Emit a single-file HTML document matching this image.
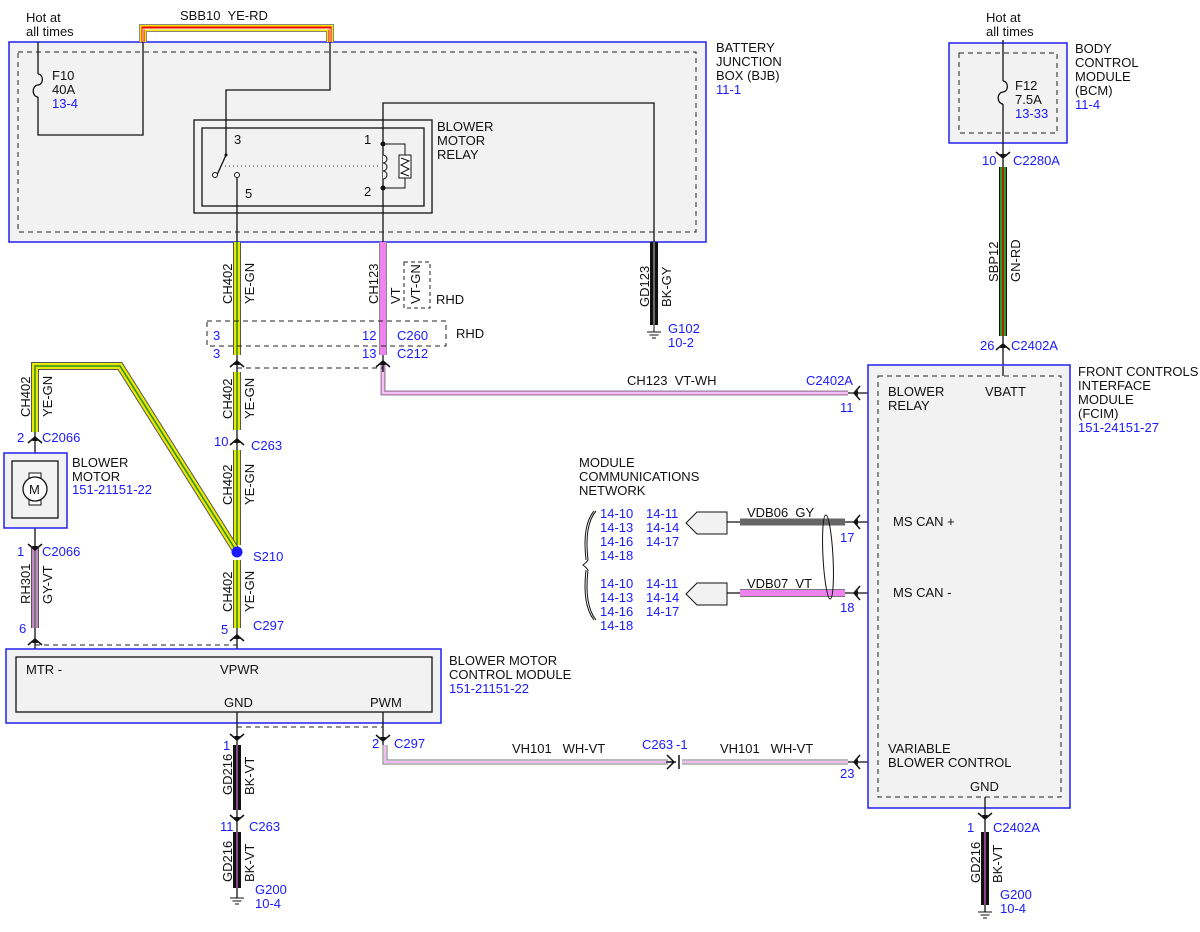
<!DOCTYPE html>
<html><head><meta charset="utf-8"><style>
html,body{margin:0;padding:0;background:#fff}
svg text{font-family:"Liberation Sans",sans-serif;font-size:13px;fill:#111;white-space:pre}
svg text.b{fill:#1a1aff}
</style></head><body>
<svg width="1200" height="927" viewBox="0 0 1200 927" xmlns="http://www.w3.org/2000/svg" xml:space="preserve">
<defs>
<g id="cd"><path d="M-7,-5 L0,1 L7,-5" fill="none" stroke="#111" stroke-width="1.5"/><path d="M-3,-3 L0,1 L3,-3Z" fill="#111"/></g>
<g id="cu"><path d="M-7,5 L0,-1 L7,5" fill="none" stroke="#111" stroke-width="1.5"/><path d="M-3,3 L0,-1 L3,3Z" fill="#111"/></g>
<g id="cl"><path d="M5,-7 L-1,0 L5,7" fill="none" stroke="#111" stroke-width="1.5"/><path d="M3,-3 L-1,0 L3,3Z" fill="#111"/></g>
<g id="gnd"><path d="M-7,0 H7 M-4.5,3 H4.5 M-2,6 H2" stroke="#111" stroke-width="1"/></g>
</defs>

<rect x="9" y="42" width="697" height="200" fill="#f2f2f2" stroke="#2222ee" stroke-width="1.5"/>
<rect x="18" y="52" width="678" height="180" fill="none" stroke="#222" stroke-dasharray="5,4"/>
<text x="716" y="52">BATTERY</text><text x="716" y="66">JUNCTION</text><text x="716" y="80">BOX (BJB)</text><text class="b" x="716" y="94">11-1</text>
<text x="26" y="22">Hot at</text><text x="26" y="36">all times</text>
<path d="M143,42 V28 H330 V42" fill="none" stroke="#888" stroke-width="8"/>
<path d="M143,42 V28 H330 V42" fill="none" stroke="#f5e600" stroke-width="6"/>
<path d="M143,42 V28 H330 V42" fill="none" stroke="#e00" stroke-width="3"/>
<path d="M143,42 V29 H330 V42" fill="none" stroke="#fff" stroke-width="1"/>
<text x="180" y="20">SBB10  YE-RD</text>
<path d="M38,42 V74 M38,97 V135 H143 V42 M330,42 V90 H226 V155 L217,175" fill="none" stroke="#111" stroke-width="1.3"/>
<path d="M38,74 a4,5 0 0 1 0,11 a4,5 0 0 0 0,12" fill="none" stroke="#111" stroke-width="1.3"/>
<text x="52" y="80">F10</text><text x="52" y="94">40A</text><text class="b" x="52" y="108">13-4</text>
<rect x="194" y="120" width="238" height="93" fill="none" stroke="#111" stroke-width="1.3"/>
<rect x="202" y="128" width="222" height="78" fill="none" stroke="#111" stroke-width="1.3"/>
<text x="437" y="131">BLOWER</text><text x="437" y="145">MOTOR</text><text x="437" y="159">RELAY</text>
<text x="234" y="144">3</text><text x="245" y="198">5</text><text x="364" y="144">1</text><text x="364" y="196">2</text>
<circle cx="215" cy="175" r="2.5" fill="#fff" stroke="#111"/><circle cx="226" cy="155" r="1.5" fill="#111"/>
<circle cx="237" cy="175" r="2.5" fill="#fff" stroke="#111"/>
<path d="M225,166 H378" stroke="#333" stroke-dasharray="1,3"/>
<path d="M237,178 V242" stroke="#111" stroke-width="1.3"/>
<path d="M383,242 V103 H654 V242" fill="none" stroke="#111" stroke-width="1.3"/>
<circle cx="383" cy="144" r="2.5" fill="#111"/><circle cx="383" cy="188" r="2.5" fill="#111"/>
<path d="M383,144 H405 V155 M405,178 V188 H383" fill="none" stroke="#111"/>
<rect x="399" y="155" width="12" height="23" fill="#fff" stroke="#111"/>
<path d="M401,158 L409,161 L401,165 L409,169 L401,173 L409,176" fill="none" stroke="#111"/>
<path d="M383,155 a4,4 0 0 1 0,8 a4,4 0 0 1 0,8 a4,4 0 0 1 0,8" fill="#f2f2f2" stroke="#111"/>

<g fill="none" stroke-linecap="butt">
<path d="M237,242 V355 M237,372 V430 M237,450 V545 M237,560 V628" stroke="#555" stroke-width="8"/>
<path d="M237,242 V355 M237,372 V430 M237,450 V545 M237,560 V628" stroke="#e8e800" stroke-width="6"/>
<path d="M237,242 V355 M237,372 V430 M237,450 V545 M237,560 V628" stroke="#2a8a2a" stroke-width="1.5"/>
<path d="M237,552 L120,366 H35 V432" stroke="#555" stroke-width="8" stroke-linejoin="miter"/>
<path d="M237,552 L120,366 H35 V432" stroke="#e8e800" stroke-width="6"/>
<path d="M237,552 L120,366 H35 V432" stroke="#2a8a2a" stroke-width="1.5"/>
<path d="M383,242 V355" stroke="#888" stroke-width="8"/>
<path d="M383,242 V355" stroke="#ee82ee" stroke-width="6"/>
<path d="M383,365 V393 H848" stroke="#888" stroke-width="5"/>
<path d="M383,365 V393 H848" stroke="#ee82ee" stroke-width="3"/>
<path d="M383,365 V393 H848" stroke="#fff" stroke-width="1"/>
<path d="M654,242 V325" stroke="#111" stroke-width="8"/>
<path d="M654,242 V325" stroke="#888" stroke-width="1.5"/>
<path d="M35,548 V628" stroke="#555" stroke-width="8"/>
<path d="M35,548 V628" stroke="#c78ac7" stroke-width="6"/>
<path d="M35,548 V628" stroke="#777" stroke-width="2"/>
<path d="M237,745 V810 M237,832 V888" stroke="#111" stroke-width="8"/>
<path d="M237,745 V810 M237,832 V888" stroke="#b05ab0" stroke-width="1.5"/>
<path d="M985,832 V905" stroke="#111" stroke-width="8"/>
<path d="M985,832 V905" stroke="#b05ab0" stroke-width="1.5"/>
<path d="M1003,167 V336" stroke="#111" stroke-width="8"/>
<path d="M1003,167 V336" stroke="#2a9a2a" stroke-width="6"/>
<path d="M1003,167 V336" stroke="#d00" stroke-width="1.5"/>
<path d="M385,745 V762 H668 M682,762 H848" stroke="#777" stroke-width="5"/>
<path d="M385,745 V762 H668 M682,762 H848" stroke="#f8f8f8" stroke-width="3"/>
<path d="M385,745 V762 H668 M682,762 H848" stroke="#ee82ee" stroke-width="1"/>
<path d="M740,522 H845" stroke="#666" stroke-width="7"/>
<path d="M740,593 H845" stroke="#777" stroke-width="8"/>
<path d="M740,593 H845" stroke="#ee82ee" stroke-width="6"/>
</g>
<path d="M727,522 H740 M727,593 H740 M845,522 H868 M845,593 H868 M848,393 H868 M848,762 H868" stroke="#111" stroke-width="1.3"/>
<ellipse cx="828" cy="557" rx="5" ry="42" fill="none" stroke="#111" transform="rotate(-3 828 557)"/>
<path d="M697,512 H727 V534 H697 L686,523Z" fill="#f2f2f2" stroke="#111"/>
<path d="M697,583 H727 V605 H697 L686,594Z" fill="#f2f2f2" stroke="#111"/>
<path d="M596,511 Q584,525 588,560 Q586,563 583,565 Q586,567 588,570 Q584,605 596,620" fill="none" stroke="#111"/>
<path d="M594,511 Q582,525 586,560 M586,570 Q582,605 594,620" fill="none" stroke="#111"/>
<text x="579" y="467">MODULE</text><text x="579" y="481">COMMUNICATIONS</text><text x="579" y="495">NETWORK</text>
<text class="b" x="600" y="518">14-10</text><text class="b" x="646" y="518">14-11</text><text class="b" x="600" y="532">14-13</text><text class="b" x="646" y="532">14-14</text><text class="b" x="600" y="546">14-16</text><text class="b" x="646" y="546">14-17</text><text class="b" x="600" y="560">14-18</text>
<text class="b" x="600" y="588">14-10</text><text class="b" x="646" y="588">14-11</text><text class="b" x="600" y="602">14-13</text><text class="b" x="646" y="602">14-14</text><text class="b" x="600" y="616">14-16</text><text class="b" x="646" y="616">14-17</text><text class="b" x="600" y="630">14-18</text>
<text x="747" y="517">VDB06  GY</text><text x="747" y="588">VDB07  VT</text>
<text class="b" x="840" y="542">17</text><text class="b" x="840" y="612">18</text>

<text transform="translate(232,304) rotate(-90)">CH402</text><text transform="translate(254,304) rotate(-90)">YE-GN</text>
<text transform="translate(378,304) rotate(-90)">CH123</text><text transform="translate(400,304) rotate(-90)">VT</text>
<text transform="translate(420,304) rotate(-90)">VT-GN</text>
<text transform="translate(649,307) rotate(-90)">GD123</text><text transform="translate(671,307) rotate(-90)">BK-GY</text>
<text transform="translate(30,417) rotate(-90)">CH402</text><text transform="translate(52,417) rotate(-90)">YE-GN</text>
<text transform="translate(232,419) rotate(-90)">CH402</text><text transform="translate(254,419) rotate(-90)">YE-GN</text>
<text transform="translate(232,505) rotate(-90)">CH402</text><text transform="translate(254,505) rotate(-90)">YE-GN</text>
<text transform="translate(232,612) rotate(-90)">CH402</text><text transform="translate(254,612) rotate(-90)">YE-GN</text>
<text transform="translate(30,604) rotate(-90)">RH301</text><text transform="translate(52,604) rotate(-90)">GY-VT</text>
<text transform="translate(232,795) rotate(-90)">GD216</text><text transform="translate(254,795) rotate(-90)">BK-VT</text>
<text transform="translate(232,882) rotate(-90)">GD216</text><text transform="translate(254,882) rotate(-90)">BK-VT</text>
<text transform="translate(980,883) rotate(-90)">GD216</text><text transform="translate(1002,883) rotate(-90)">BK-VT</text>
<text transform="translate(998,282) rotate(-90)">SBP12</text><text transform="translate(1020,282) rotate(-90)">GN-RD</text>
<rect x="404" y="262" width="26" height="46" fill="none" stroke="#222" stroke-dasharray="4,3"/>
<text x="436" y="304">RHD</text>
<rect x="207" y="321" width="239" height="25" fill="none" stroke="#222" stroke-dasharray="5,4"/>
<text x="456" y="338">RHD</text>
<text class="b" x="213" y="340">3</text><text class="b" x="362" y="340">12</text><text class="b" x="397" y="340">C260</text>
<text class="b" x="213" y="358">3</text><text class="b" x="362" y="358">13</text><text class="b" x="397" y="358">C212</text>
<use href="#cu" x="237" y="362"/><use href="#cu" x="383" y="362"/>
<path d="M237,368 H383" stroke="#222" stroke-dasharray="5,4"/>
<path d="M237,355 V372 M383,355 V372" stroke="#111" stroke-width="1.3"/>
<text x="627" y="385">CH123  VT-WH</text><text class="b" x="806" y="385">C2402A</text><text class="b" x="840" y="412">11</text>
<path d="M654,325 V332" stroke="#111"/><use href="#gnd" x="654" y="332"/>
<text class="b" x="668" y="333">G102</text><text class="b" x="668" y="347">10-2</text>

<path d="M237,430 V450" stroke="#111" stroke-width="1.3"/><use href="#cu" x="237" y="440"/>
<text class="b" x="214" y="446">10</text><text class="b" x="251" y="450">C263</text>
<circle cx="237" cy="552" r="5.5" fill="#1a1aff"/>
<text class="b" x="253" y="561">S210</text>
<path d="M237,628 V657" stroke="#111" stroke-width="1.3"/><use href="#cu" x="237" y="636"/>
<text class="b" x="221" y="634">5</text><text class="b" x="253" y="630">C297</text>

<path d="M35,432 V548 M35,628 V657" stroke="#111" stroke-width="1.3"/>
<use href="#cu" x="35" y="438"/>
<text class="b" x="17" y="442">2</text><text class="b" x="42" y="442">C2066</text>
<rect x="4" y="453" width="63" height="75" fill="#f2f2f2" stroke="#2222ee" stroke-width="1.5"/>
<rect x="12" y="461" width="46" height="57" fill="none" stroke="#111" stroke-width="1.3"/>
<rect x="29" y="473" width="12" height="5" fill="#fff" stroke="#111"/><rect x="29" y="500" width="12" height="5" fill="#fff" stroke="#111"/>
<circle cx="35" cy="489" r="12" fill="#fff" stroke="#111" stroke-width="1.3"/>
<text x="29" y="494">M</text>
<text x="72" y="467">BLOWER</text><text x="72" y="481">MOTOR</text><text class="b" x="72" y="494">151-21151-22</text>
<use href="#cd" x="35" y="549"/>
<text class="b" x="17" y="556">1</text><text class="b" x="42" y="556">C2066</text>
<text class="b" x="19" y="633">6</text>
<use href="#cu" x="35" y="640"/>
<path d="M35,645 H237" stroke="#222" stroke-dasharray="5,4"/>

<rect x="6" y="649" width="435" height="74" fill="#f2f2f2" stroke="#2222ee" stroke-width="1.5"/>
<rect x="16" y="657" width="416" height="55" fill="#f2f2f2" stroke="#111" stroke-width="1.3"/>
<text x="26" y="674">MTR -</text><text x="220" y="674">VPWR</text><text x="224" y="707">GND</text><text x="370" y="707">PWM</text>
<text x="449" y="665">BLOWER MOTOR</text><text x="449" y="679">CONTROL MODULE</text><text class="b" x="449" y="693">151-21151-22</text>
<path d="M237,712 V745 M237,810 V832 M237,888 V898 M383,712 V745" stroke="#111" stroke-width="1.3"/>
<path d="M237,727 H383" stroke="#222" stroke-dasharray="5,4"/>
<use href="#cd" x="237" y="739"/><use href="#cd" x="383" y="740"/>
<text class="b" x="223" y="750">1</text><text class="b" x="372" y="748">2</text><text class="b" x="394" y="748">C297</text>
<use href="#cd" x="237" y="820"/>
<text class="b" x="220" y="831">11</text><text class="b" x="249" y="831">C263</text>
<use href="#gnd" x="237" y="898"/>
<text class="b" x="255" y="894">G200</text><text class="b" x="255" y="908">10-4</text>
<text x="512" y="753">VH101   WH-VT</text>
<text class="b" x="642" y="749">C263</text><text class="b" x="676" y="749">-1</text>
<text x="720" y="753">VH101   WH-VT</text>
<path d="M667,755 L674,762 L667,769 M666,762 H676 M679,755 V769" fill="none" stroke="#111" stroke-width="1.5"/>
<text class="b" x="840" y="778">23</text>

<rect x="949" y="43" width="118" height="100" fill="#f2f2f2" stroke="#2222ee" stroke-width="1.5"/>
<rect x="959" y="53" width="98" height="80" fill="none" stroke="#222" stroke-dasharray="5,4"/>
<text x="986" y="22">Hot at</text><text x="986" y="36">all times</text>
<text x="1075" y="53">BODY</text><text x="1075" y="67">CONTROL</text><text x="1075" y="81">MODULE</text><text x="1075" y="95">(BCM)</text><text class="b" x="1075" y="109">11-4</text>
<path d="M1003,40 V81 M1003,104 V167 M1003,336 V366" stroke="#111" stroke-width="1.3"/>
<path d="M1003,81 a4,5 0 0 1 0,11 a4,5 0 0 0 0,12" fill="none" stroke="#111" stroke-width="1.3"/>
<text x="1015" y="90">F12</text><text x="1015" y="104">7.5A</text><text class="b" x="1015" y="118">13-33</text>
<use href="#cd" x="1003" y="157"/>
<text class="b" x="982" y="165">10</text><text class="b" x="1013" y="165">C2280A</text>
<use href="#cu" x="1003" y="345"/>
<text class="b" x="980" y="350">26</text><text class="b" x="1011" y="350">C2402A</text>

<rect x="868" y="365" width="202" height="443" fill="#f2f2f2" stroke="#2222ee" stroke-width="1.5"/>
<rect x="878" y="376" width="183" height="421" fill="none" stroke="#222" stroke-dasharray="5,4"/>
<path d="M1003,366 V376" stroke="#111" stroke-width="1.3"/>
<text x="1078" y="376">FRONT CONTROLS</text><text x="1078" y="390">INTERFACE</text><text x="1078" y="404">MODULE</text><text x="1078" y="418">(FCIM)</text><text class="b" x="1078" y="432">151-24151-27</text>
<text x="888" y="396">BLOWER</text><text x="888" y="410">RELAY</text><text x="985" y="396">VBATT</text>
<text x="893" y="526">MS CAN +</text><text x="893" y="597">MS CAN -</text>
<text x="888" y="753">VARIABLE</text><text x="888" y="767">BLOWER CONTROL</text><text x="970" y="791">GND</text>
<use href="#cl" x="855" y="393"/><use href="#cl" x="855" y="522"/><use href="#cl" x="855" y="593"/><use href="#cl" x="855" y="762"/>
<path d="M985,797 V832 M985,905 V912" stroke="#111" stroke-width="1.3"/>
<use href="#cd" x="985" y="818"/>
<text class="b" x="967" y="832">1</text><text class="b" x="993" y="832">C2402A</text>
<use href="#gnd" x="985" y="912"/>
<text class="b" x="1000" y="899">G200</text><text class="b" x="1000" y="913">10-4</text>
</svg>
</body></html>
